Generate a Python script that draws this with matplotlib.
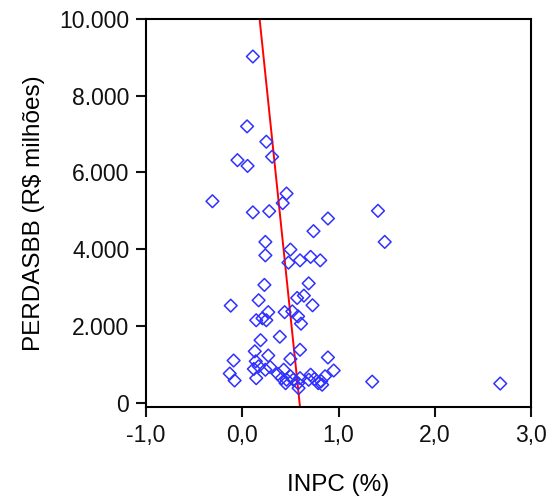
# Scatter of bank losses (PERDASBB) against inflation (INPC) with fitted line
import numpy as np
import matplotlib.pyplot as plt
from matplotlib.ticker import FuncFormatter

plt.rcParams['font.family'] = ['Liberation Sans', 'DejaVu Sans']

inpc = [0.11, 0.05, 0.25, 0.31, -0.05, 0.055, 0.46, 0.42, -0.31, 0.11, 0.28, 0.89,
        1.41, 1.48, 0.74, 0.24, 0.24, 0.50, 0.48, 0.60, 0.71, 0.81,
        0.23, 0.69, 0.57, 0.64, 0.17, -0.12, 0.73, 0.27, 0.44, 0.52, 0.145, 0.25,
        0.21, 0.58, 0.61, 0.39, 0.19, 0.60, 0.13, 0.27, 0.50, -0.09, 0.89, 0.95, 0.14,
        0.12, 0.17, 0.24, 0.29, -0.13, -0.08, 0.145, 0.37, 0.43, 0.41, 0.46, 0.50,
        0.45, 0.53, 0.58, 0.585, 0.60, 0.71, 0.69, 0.75, 0.79, 0.82, 0.86, 0.83,
        1.35, 2.68]
perdas = [9020, 7200, 6800, 6410, 6320, 6170, 5450, 5200, 5250, 4960, 4990, 4800,
          5000, 4190, 4470, 4190, 3840, 3990, 3650, 3710, 3800, 3710,
          3070, 3110, 2730, 2790, 2670, 2530, 2540, 2360, 2360, 2380, 2150, 2150,
          2200, 2250, 2060, 1720, 1630, 1380, 1340, 1230, 1140, 1100, 1180, 840, 1080,
          880, 950, 860, 930, 760, 580, 640, 750, 860, 640, 600, 690,
          510, 600, 510, 380, 640, 730, 600, 620, 510, 560, 690, 470,
          550, 500]

# fitted line: INPC = a + b * PERDASBB
fit_a = 0.595
fit_b = -4.15e-5

x_ticks = [-1.0, 0.0, 1.0, 2.0, 3.0]
y_ticks = [0, 2000, 4000, 6000, 8000, 10000]

fig = plt.figure(figsize=(5.5, 5.04), dpi=100)
ax = fig.add_axes([0.2655, 0.1925, 0.70, 0.77])

ax.scatter(inpc, perdas, marker='D', s=42, facecolors='none',
           edgecolors='#3030ff', linewidths=1.1, zorder=3)

yy = np.array([-110, 10000])
ax.plot(fit_a + fit_b * yy, yy, color='red', linewidth=1.4, zorder=2)

ax.set_xlim(-1.0, 3.0)
ax.set_ylim(-110, 10000)
ax.set_xticks(x_ticks)
ax.set_yticks(y_ticks)
ax.xaxis.set_major_formatter(FuncFormatter(lambda v, p: f"{v:.1f}".replace('.', ',')))
ax.yaxis.set_major_formatter(FuncFormatter(lambda v, p: f"{int(v):,}".replace(',', '.')))

for s in ax.spines.values():
    s.set_linewidth(1.5)
ax.tick_params(direction='out', length=7, width=1.5, labelsize=16.5, pad=5,
               colors='#111111')

ax.set_xlabel('INPC (%)', fontsize=17.5, labelpad=20)
ax.set_ylabel('PERDASBB (R$ milhões)', fontsize=17.5, labelpad=10)

fig.savefig('out.png', dpi=100)
